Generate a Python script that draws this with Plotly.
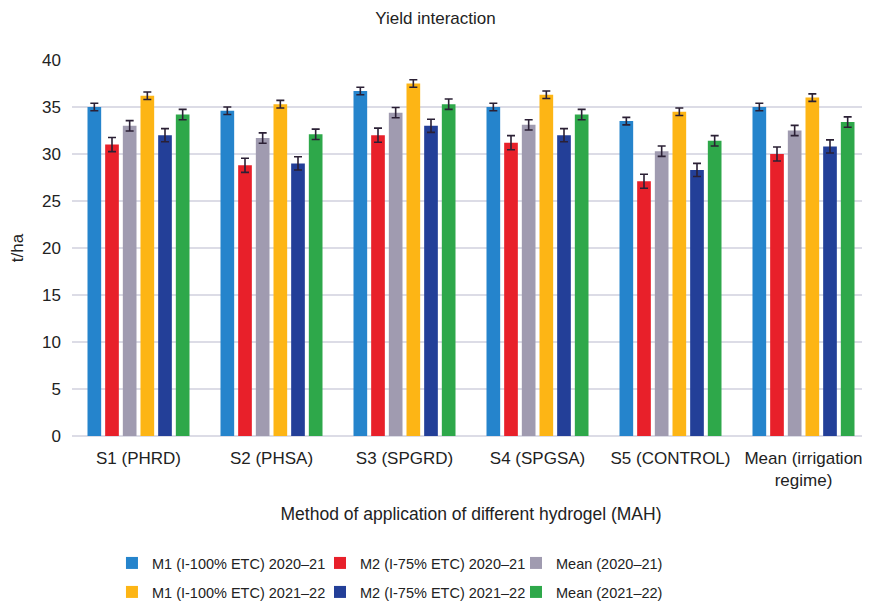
import plotly.graph_objects as go

categories = ["S1 (PHRD)", "S2 (PHSA)", "S3 (SPGRD)", "S4 (SPGSA)", "S5 (CONTROL)", "Mean (irrigation<br>regime)"]

series_names = [
    "M1 (I-100% ETC) 2020–21",
    "M2 (I-75% ETC) 2020–21",
    "Mean (2020–21)",
    "M1 (I-100% ETC) 2021–22",
    "M2 (I-75% ETC) 2021–22",
    "Mean (2021–22)",
]

m1_2021 = [35.0, 34.6, 36.7, 35.0, 33.5, 35.0]
m2_2021 = [31.0, 28.8, 32.0, 31.2, 27.1, 30.0]
mean_2021 = [33.0, 31.7, 34.4, 33.1, 30.3, 32.5]
m1_2122 = [36.2, 35.3, 37.5, 36.3, 34.5, 36.0]
m2_2122 = [32.0, 29.0, 33.0, 32.0, 28.3, 30.8]
mean_2122 = [34.2, 32.1, 35.3, 34.2, 31.4, 33.4]

err_m1_2021 = [0.4, 0.4, 0.4, 0.4, 0.4, 0.4]
err_m2_2021 = [0.75, 0.75, 0.75, 0.75, 0.75, 0.75]
err_mean_2021 = [0.55, 0.55, 0.55, 0.55, 0.55, 0.55]
err_m1_2122 = [0.4, 0.4, 0.4, 0.4, 0.4, 0.4]
err_m2_2122 = [0.7, 0.7, 0.7, 0.7, 0.7, 0.7]
err_mean_2122 = [0.55, 0.55, 0.55, 0.55, 0.55, 0.55]

values = [m1_2021, m2_2021, mean_2021, m1_2122, m2_2122, mean_2122]
errors = [err_m1_2021, err_m2_2021, err_mean_2021, err_m1_2122, err_m2_2122, err_mean_2122]
colors = ["#2584cc", "#e8202a", "#a09bb0", "#fdb515", "#233f98", "#2ea84a"]

FONT = "Liberation Sans, Arial, sans-serif"
TXT = "#222222"

# one legend box per entry, laid out as 2 rows x 3 columns
legend_ids = ["legend", "legend2", "legend3", "legend4", "legend5", "legend6"]
legend_cols = [0.1195, 0.3586, 0.5839]
legend_rows = [0.0811, 0.0331]

fig = go.Figure()
for i, (name, vals, errs, col) in enumerate(zip(series_names, values, errors, colors)):
    fig.add_trace(go.Bar(
        x=categories, y=vals, name=name,
        marker=dict(color=col, line=dict(width=0)),
        error_y=dict(type="data", array=errs, visible=True,
                     color="#2b2035", thickness=1.6, width=4),
        legend=legend_ids[i],
    ))

legend_layout = {}
for i, lid in enumerate(legend_ids):
    legend_layout[lid] = dict(
        x=legend_cols[i % 3], y=legend_rows[i // 3],
        orientation="h", xanchor="left", yanchor="middle",
        xref="container", yref="container",
        font=dict(family=FONT, size=14.5, color=TXT),
        bgcolor="rgba(0,0,0,0)", itemwidth=30,
    )

fig.update_layout(
    width=870, height=604,
    margin=dict(l=64, r=8, t=52, b=176, autoexpand=False),
    paper_bgcolor="white", plot_bgcolor="white",
    barmode="group", bargap=0.203, bargroupgap=0.226,
    title=dict(text="Yield interaction", x=0.4914, xanchor="center",
               xref="container", yref="container",
               y=0.9834, yanchor="middle",
               font=dict(family=FONT, size=17, color=TXT)),
    font=dict(family=FONT, color=TXT),
    xaxis=dict(
        showgrid=False, showline=False, ticks="",
        tickfont=dict(family=FONT, size=17, color=TXT),
        ticklabelstandoff=10,
        title=dict(text="Method of application of different hydrogel (MAH)",
                   font=dict(family=FONT, size=17.5, color=TXT), standoff=18),
    ),
    yaxis=dict(
        range=[0, 40], dtick=5, showgrid=True, gridcolor="#dcdce6", gridwidth=1.5,
        zeroline=True, zerolinecolor="#dcdce6", zerolinewidth=1.5,
        ticks="", ticklabelstandoff=10,
        tickfont=dict(family=FONT, size=17, color=TXT),
        title=dict(text="t/ha", font=dict(family=FONT, size=17, color=TXT), standoff=14),
    ),
    showlegend=True,
    **legend_layout,
)

fig.write_html("out.html")
